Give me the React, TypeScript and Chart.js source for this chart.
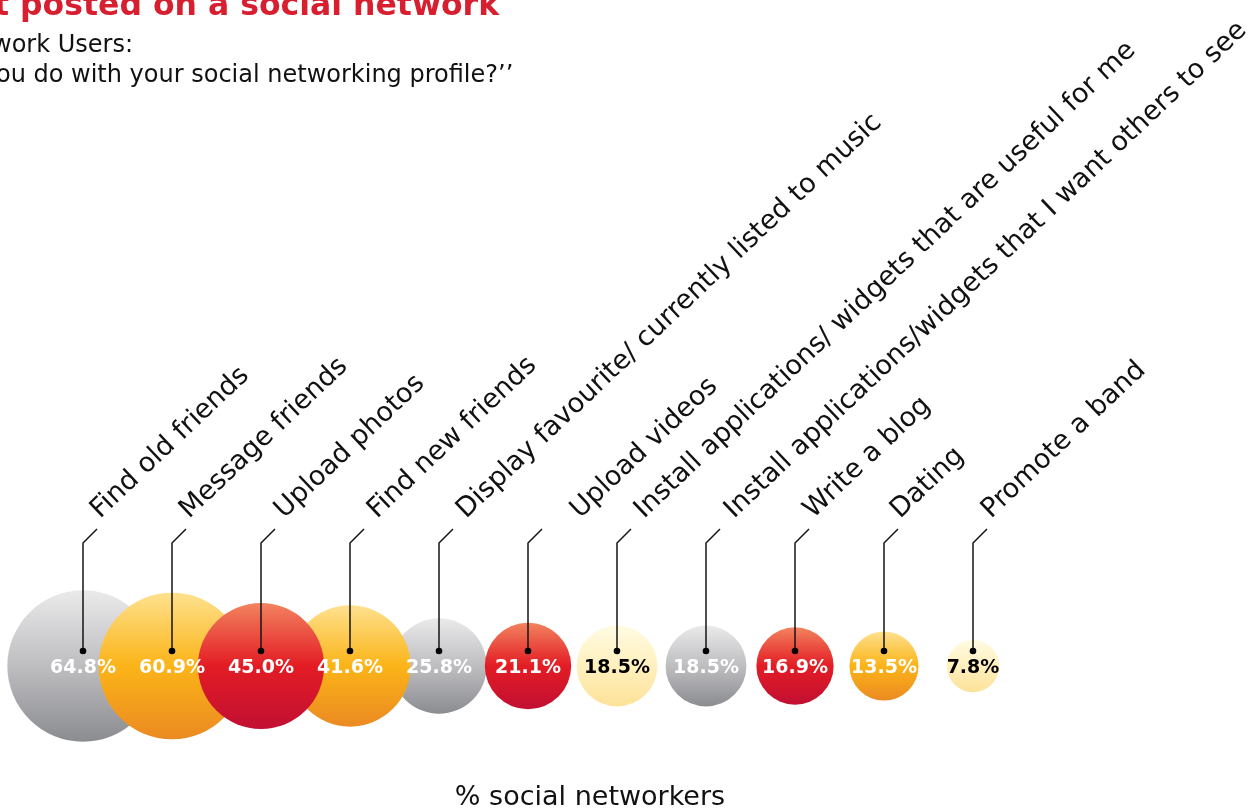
import React, { useEffect, useRef } from "react";
import { Chart, registerables } from "chart.js";

Chart.register(...registerables);

const titleText = "t posted on a social network";
const subtitleLines = ["work Users:", "ou do with your social networking profile?\u2019\u2019"];
const axisTitle = "% social networkers";

const categories = [
  "Find old friends",
  "Message friends",
  "Upload photos",
  "Find new friends",
  "Display favourite/ currently listed to music",
  "Upload videos",
  "Install applications/ widgets that are useful for me",
  "Install applications/widgets that I want others to see",
  "Write a blog",
  "Dating",
  "Promote a band",
];
const values = [64.8, 60.9, 45.0, 41.6, 25.8, 21.1, 18.5, 18.5, 16.9, 13.5, 7.8];
const colorKeys = ["gray", "orange", "red", "orange", "gray", "red", "pale", "gray", "red", "orange", "pale"];

// layout-only settings (not data)
const drawOrder = [0, 1, 4, 3, 2, 5, 6, 7, 8, 9, 10];
const labelShift = [17, 17, 23, 27, 27, 52, 27, 28, 18, 16, 18];
const LABEL_ANGLE = (-43.5 * Math.PI) / 180;

const palette: Record<string, { stops: string[]; text: string }> = {
  gray: { stops: ["#eaeaeb", "#bebec1", "#8b8c90"], text: "#ffffff" },
  orange: { stops: ["#fee18e", "#fbb418", "#eb8a22"], text: "#ffffff" },
  red: { stops: ["#f2835f", "#e31c24", "#c20f33"], text: "#ffffff" },
  pale: { stops: ["#fffbe2", "#fff0be", "#fde298"], text: "#000000" },
};

const RADIUS_PER_SQRT = 9.4;

export default function App() {
  const canvasRef = useRef<HTMLCanvasElement | null>(null);

  useEffect(() => {
    const canvas = canvasRef.current;
    if (!canvas) return;

    const points = drawOrder.map((i) => ({
      x: i,
      y: 0,
      r: RADIUS_PER_SQRT * Math.sqrt(values[i]),
      v: values[i],
      c: colorKeys[i],
    }));

    const overlay = {
      id: "overlay",
      afterDatasetsDraw(chart: any) {
        const ctx = chart.ctx;
        const xs = chart.scales.x;
        const ys = chart.scales.y;
        const cy = ys.getPixelForValue(0);
        ctx.save();
        // value labels
        categories.forEach((_, i) => {
          const cx = xs.getPixelForValue(i);
          ctx.font = "bold 19px 'DejaVu Sans', Verdana, sans-serif";
          ctx.textAlign = "center";
          ctx.textBaseline = "middle";
          ctx.fillStyle = palette[colorKeys[i]].text;
          ctx.fillText(values[i].toFixed(1) + "%", cx, cy + 2);
        });
        // leader lines
        categories.forEach((label, i) => {
          const cx = xs.getPixelForValue(i);
          const dotY = cy - 15;
          const topY = 543;
          ctx.strokeStyle = "#151515";
          ctx.lineWidth = 1.5;
          ctx.beginPath();
          ctx.moveTo(cx, dotY);
          ctx.lineTo(cx, topY);
          ctx.lineTo(cx + 14, topY - 14);
          ctx.stroke();
          ctx.fillStyle = "#000000";
          ctx.beginPath();
          ctx.arc(cx, dotY, 3.3, 0, Math.PI * 2);
          ctx.fill();
          // rotated category label
          ctx.save();
          ctx.translate(cx + labelShift[i], 519);
          ctx.rotate(LABEL_ANGLE);
          ctx.font = "27px 'DejaVu Sans', Verdana, sans-serif";
          ctx.textAlign = "left";
          ctx.textBaseline = "alphabetic";
          ctx.fillStyle = "#111111";
          ctx.fillText(label, 0, 0);
          ctx.restore();
        });
        // titles
        ctx.textAlign = "left";
        ctx.textBaseline = "alphabetic";
        ctx.fillStyle = "#d81f30";
        ctx.font = "bold 31.5px 'DejaVu Sans', Verdana, sans-serif";
        ctx.fillText(titleText, -6, 15);
        ctx.fillStyle = "#111111";
        ctx.font = "24px 'DejaVu Sans', Verdana, sans-serif";
        ctx.fillText(subtitleLines[0], -8, 52);
        ctx.fillText(subtitleLines[1], -4, 82);
        ctx.textAlign = "center";
        ctx.font = "27px 'DejaVu Sans', Verdana, sans-serif";
        ctx.fillText(axisTitle, 590, 805);
        ctx.restore();
      },
    };

    const chart = new Chart(canvas, {
      type: "bubble",
      data: {
        datasets: [
          {
            label: "% social networkers",
            data: points as any,
            borderWidth: 0,
            hoverBorderWidth: 0,
            backgroundColor: (c: any) => {
              const raw = c.raw;
              const chartObj = c.chart;
              const fallback = raw ? palette[raw.c].stops[1] : "#cccccc";
              if (!raw || !chartObj.scales || !chartObj.scales.y) return fallback;
              const cy = chartObj.scales.y.getPixelForValue(0);
              if (!Number.isFinite(cy) || !Number.isFinite(raw.r)) return fallback;
              const g = chartObj.ctx.createLinearGradient(0, cy - raw.r, 0, cy + raw.r);
              const s = palette[raw.c].stops;
              g.addColorStop(0, s[0]);
              g.addColorStop(0.5, s[1]);
              g.addColorStop(1, s[2]);
              return g;
            },
          },
        ],
      },
      options: {
        responsive: false,
        animation: false,
        events: [],
        layout: { autoPadding: false, padding: 0 },
        plugins: {
          legend: { display: false },
          tooltip: { enabled: false },
          title: { display: false },
        },
        scales: {
          x: {
            type: "linear",
            display: false,
            min: -83 / 89,
            max: 10 + 276 / 89,
          },
          y: {
            type: "linear",
            display: false,
            min: -1,
            max: 666 / 142,
          },
        },
      },
      plugins: [overlay],
    });

    return () => chart.destroy();
  }, []);

  return (
    <div style={{ position: "absolute", left: 0, top: 0, width: 1249, height: 808, background: "#ffffff" }}>
      <canvas ref={canvasRef} width={1249} height={808} style={{ width: 1249, height: 808, display: "block" }} />
    </div>
  );
}
